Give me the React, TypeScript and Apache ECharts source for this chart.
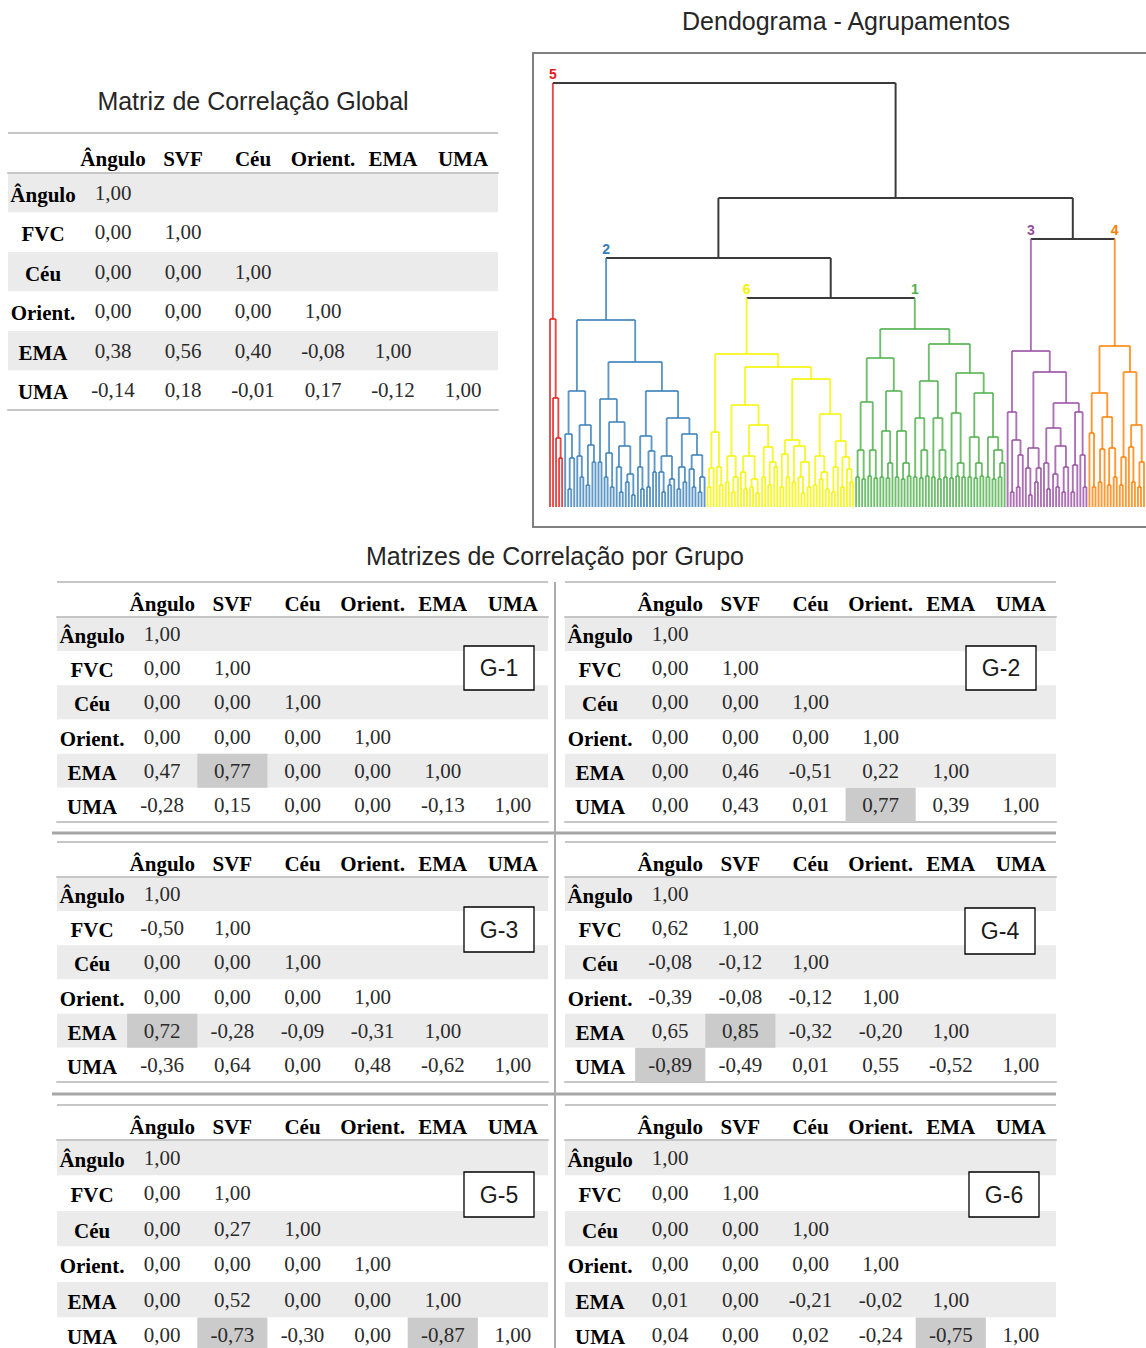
import { useEffect, useRef } from 'react';
import * as echarts from 'echarts';

// ---------------- DATA ----------------
const colHeaders = ['Ângulo', 'SVF', 'Céu', 'Orient.', 'EMA', 'UMA'];
const rowHeaders = ['Ângulo', 'FVC', 'Céu', 'Orient.', 'EMA', 'UMA'];

const globalMatrix = [
  [1.0],
  [0.0, 1.0],
  [0.0, 0.0, 1.0],
  [0.0, 0.0, 0.0, 1.0],
  [0.38, 0.56, 0.4, -0.08, 1.0],
  [-0.14, 0.18, -0.01, 0.17, -0.12, 1.0],
];
const g1Matrix = [
  [1.0],
  [0.0, 1.0],
  [0.0, 0.0, 1.0],
  [0.0, 0.0, 0.0, 1.0],
  [0.47, 0.77, 0.0, 0.0, 1.0],
  [-0.28, 0.15, 0.0, 0.0, -0.13, 1.0],
];
const g1Highlights = [[4, 1]];
const g2Matrix = [
  [1.0],
  [0.0, 1.0],
  [0.0, 0.0, 1.0],
  [0.0, 0.0, 0.0, 1.0],
  [0.0, 0.46, -0.51, 0.22, 1.0],
  [0.0, 0.43, 0.01, 0.77, 0.39, 1.0],
];
const g2Highlights = [[5, 3]];
const g3Matrix = [
  [1.0],
  [-0.5, 1.0],
  [0.0, 0.0, 1.0],
  [0.0, 0.0, 0.0, 1.0],
  [0.72, -0.28, -0.09, -0.31, 1.0],
  [-0.36, 0.64, 0.0, 0.48, -0.62, 1.0],
];
const g3Highlights = [[4, 0]];
const g4Matrix = [
  [1.0],
  [0.62, 1.0],
  [-0.08, -0.12, 1.0],
  [-0.39, -0.08, -0.12, 1.0],
  [0.65, 0.85, -0.32, -0.2, 1.0],
  [-0.89, -0.49, 0.01, 0.55, -0.52, 1.0],
];
const g4Highlights = [[4, 1], [5, 0]];
const g5Matrix = [
  [1.0],
  [0.0, 1.0],
  [0.0, 0.27, 1.0],
  [0.0, 0.0, 0.0, 1.0],
  [0.0, 0.52, 0.0, 0.0, 1.0],
  [0.0, -0.73, -0.3, 0.0, -0.87, 1.0],
];
const g5Highlights = [[5, 1], [5, 4]];
const g6Matrix = [
  [1.0],
  [0.0, 1.0],
  [0.0, 0.0, 1.0],
  [0.0, 0.0, 0.0, 1.0],
  [0.01, 0.0, -0.21, -0.02, 1.0],
  [0.04, 0.0, 0.02, -0.24, -0.75, 1.0],
];
const g6Highlights = [[5, 4]];
const groupNames = ['G-1', 'G-2', 'G-3', 'G-4', 'G-5', 'G-6'];

// Dendrogram: Newick-like strings, "." = leaf, "(a,b)h" = merge at height h
const clusterIds = ['5', '2', '6', '1', '3', '4'];
const clusterColors = ['#e41a1c', '#377eb8', '#f4f400', '#4daf4a', '#984ea3', '#ff7f00'];
const treeRed = '(.,(.,(.,(.,.)49)69)109)188';
const treeBlueA = '((.,((.,.)18,.)49)73,((.,(.,.)30)51,((.,.)22,(.,.)45)62)82)116';
const treeBlueBL = '((.,.)45,(((.,.)30,(.,.)20)54,((.,(.,.)15)40,((.,.)25,(.,.)12)33)61)85)108';
const treeBlueBR = '(((.,(.,.)18)40,((.,.)20,(.,.)35)56)71,(((.,(.,.)15)35,((.,.)22,.)28)51,(((.,.)18,(.,.)25)40,((.,(.,.)20)38,((.,.)15,.)30)52)73)89)116';
const treeYellowY1 = '(((.,.)20,.)39,(.,(.,.)22)40)75';
const treeYellowY2a = '(((.,.)25,((.,.)15,.)30)51,(((.,(.,.)18)35,((.,.)20,(.,.)14)28)51,((.,.)30,((.,.)22,(.,.)40)45)60)82)102';
const treeYellowY2b = '((((.,.)20,(.,.)30)53,((.,.)25,((.,(.,.)14)30,(.,.)20)45)61)67,(((.,.)22,((.,.)28,(.,.)18)35)51,(((.,.)15,.)40,((.,.)20,(.,(.,.)25)38)50)66)93)128';
const treeGreenG1 = '((((.,.)30,(.,.)28)57,((.,.)31,(.,.)29)57)105,(((.,.)30,((.,.)29,.)44)76,((.,.)30,((.,.)28,(.,.)31)44)76)116)149';
const treeGreenG2 = '((((.,.)30,((.,.)29,(.,.)31)57)89,((.,.)30,((.,.)28,(.,.)30)57)89)126,(((.,.)29,((.,.)31,(.,.)30)44)94,(((.,.)30,((.,.)29,(.,.)31)44)70,((.,.)30,((.,.)28,((.,.)30,.)44)57)70)114)134)163';
const treePurpleP1 = '(.,((.,.)15,((.,.)20,.)52)67)95';
const treePurpleP2 = '(((.,(.,.)12)39,((.,.)25,.)39)59,(((.,(.,.)18)44,((.,(.,.)20)33,((.,.)15,.)40)61)79,(((.,.)15,.)42,(.,(.,.)20)52)95)104)135';
const treeOrange = '(((.,(.,.)20)74,(((.,.)25,.)58,((.,.)22,(.,.)30)59)90)114,(((.,.)22,.)50,((.,(.,.)25)60,((.,.)20,.)45)82)135)161';
const clusterTrees = [
  treeRed,
  '(' + treeBlueA + ',(' + treeBlueBL + ',' + treeBlueBR + ')145)187',
  '(' + treeYellowY1 + ',(' + treeYellowY2a + ',' + treeYellowY2b + ')140)153',
  '(' + treeGreenG1 + ',' + treeGreenG2 + ')178',
  '(' + treePurpleP1 + ',' + treePurpleP2 + ')156',
  treeOrange,
];
const topTree = '(#5,((#2,(#6,#1)209)249,(#3,#4)268)309)424';

// ---------------- HELPERS ----------------
type TNode = { h: number; children: TNode[]; x: number; color: number | null };

function parseTree(s: string, refs: Record<string, TNode>): TNode {
  let i = 0;
  const node = (): TNode => {
    if (s[i] === '(') {
      i++;
      const children: TNode[] = [];
      for (;;) {
        children.push(node());
        if (s[i] === ',') { i++; continue; }
        if (s[i] === ')') { i++; break; }
        throw new Error('bad tree');
      }
      let num = '';
      while (i < s.length && /[0-9]/.test(s[i])) num += s[i++];
      return { h: Number(num), children, x: 0, color: null };
    }
    if (s[i] === '.') { i++; return { h: 0, children: [], x: 0, color: null }; }
    if (s[i] === '#') {
      i++;
      let id = '';
      while (i < s.length && /[0-9]/.test(s[i])) id += s[i++];
      return refs[id];
    }
    throw new Error('bad tree char ' + s[i]);
  };
  return node();
}

function colorTree(n: TNode, c: number) {
  n.color = c;
  n.children.forEach((ch) => colorTree(ch, c));
}

function buildDendrogram() {
  const refs: Record<string, TNode> = {};
  clusterTrees.forEach((t, k) => {
    const n = parseTree(t, {});
    colorTree(n, k);
    refs[clusterIds[k]] = n;
  });
  const root = parseTree(topTree, refs);
  let leaf = 0;
  const layout = (n: TNode) => {
    if (!n.children.length) { n.x = leaf++; return; }
    n.children.forEach(layout);
    n.x = n.children.reduce((a, c) => a + c.x, 0) / n.children.length;
  };
  layout(root);
  const black = clusterColors.length;
  const segs: number[][] = [];
  const labels: number[][] = [];
  const collect = (n: TNode) => {
    if (!n.children.length) return;
    const xs = n.children.map((c) => c.x);
    segs.push([Math.min(...xs), n.h, Math.max(...xs), n.h, n.color ?? black]);
    n.children.forEach((c) => {
      segs.push([c.x, c.h, c.x, n.h, c.color ?? black]);
      if (c.color !== null && n.color === null) labels.push([c.x, n.h, c.color]);
      collect(c);
    });
  };
  collect(root);
  return { segs, labels, leaves: leaf, rootH: root.h };
}

const fmt = (v: number) => v.toFixed(2).replace('.', ',');

const SERIF = "'Liberation Serif', 'Times New Roman', serif";
const SANS = "'Liberation Sans', Arial, sans-serif";

// ---------------- LAYOUT ----------------
const tables = [
  { matrix: globalMatrix, hl: [] as number[][], left: 8, width: 490, top: 173, height: 237, ruleTop: 133, margin: 4 },
  { matrix: g1Matrix, hl: g1Highlights, left: 57, width: 491, top: 617, height: 205, ruleTop: 582, margin: 3 },
  { matrix: g2Matrix, hl: g2Highlights, left: 565, width: 491, top: 617, height: 205, ruleTop: 582, margin: 3 },
  { matrix: g3Matrix, hl: g3Highlights, left: 57, width: 491, top: 877, height: 205, ruleTop: 842, margin: 3 },
  { matrix: g4Matrix, hl: g4Highlights, left: 565, width: 491, top: 877, height: 205, ruleTop: 842, margin: 3 },
  { matrix: g5Matrix, hl: g5Highlights, left: 57, width: 491, top: 1140, height: 213, ruleTop: 1105, margin: 3 },
  { matrix: g6Matrix, hl: g6Highlights, left: 565, width: 491, top: 1140, height: 213, ruleTop: 1105, margin: 3 },
];
const boxes = [
  { x: 464, y: 646, w: 70, h: 44 },
  { x: 966, y: 646, w: 70, h: 44 },
  { x: 464, y: 907, w: 70, h: 45 },
  { x: 965, y: 908, w: 70, h: 46 },
  { x: 464, y: 1172, w: 70, h: 45 },
  { x: 969, y: 1172, w: 70, h: 45 },
];

function buildOption() {
  const grid: any[] = [];
  const xAxis: any[] = [];
  const yAxis: any[] = [];
  const series: any[] = [];
  const graphic: any[] = [];
  const ruleColor = '#c6c6c6';

  tables.forEach((t, ti) => {
    grid.push({ left: t.left, top: t.top, width: t.width, height: t.height, outerBoundsMode: 'none', containLabel: false });
    xAxis.push({
      gridIndex: ti, type: 'category', position: 'top', data: [''].concat(colHeaders),
      axisLine: { show: true, lineStyle: { color: ruleColor, width: 2 } },
      axisTick: { show: false }, splitLine: { show: false },
      axisLabel: { interval: 0, margin: t.margin, fontFamily: SERIF, fontWeight: 'bold', fontSize: 21, color: '#000' },
    });
    xAxis.push({
      gridIndex: ti, type: 'category', position: 'bottom', data: [''].concat(colHeaders),
      axisLine: { show: true, lineStyle: { color: ruleColor, width: 2 } },
      axisTick: { show: false }, splitLine: { show: false }, axisLabel: { show: false },
    });
    yAxis.push({
      gridIndex: ti, type: 'category', inverse: true, data: rowHeaders,
      axisLine: { show: false }, axisTick: { show: false }, axisLabel: { show: false },
      splitLine: { show: false },
      splitArea: { show: true, interval: 0, areaStyle: { color: ['#ebebeb', '#ffffff'] } },
    });
    const items: number[][] = [];
    const texts: string[] = [];
    rowHeaders.forEach((lab, r) => {
      items.push([0, r, 0]);
      texts.push(lab);
      t.matrix[r].forEach((v, c) => {
        const isHl = t.hl.some(([hr, hc]) => hr === r && hc === c);
        items.push([c + 1, r, isHl ? 2 : 1]);
        texts.push(fmt(v));
      });
    });
    series.push({
      type: 'custom', coordinateSystem: 'cartesian2d', xAxisIndex: ti * 2, yAxisIndex: ti,
      data: items, silent: true,
      renderItem: (params: any, api: any) => {
        const c = api.value(0);
        const r = api.value(1);
        const kind = api.value(2);
        const p = api.coord([c, r]);
        const sz = api.size([1, 1]);
        const children: any[] = [];
        if (kind === 2) {
          children.push({
            type: 'rect',
            shape: { x: p[0] - sz[0] / 2, y: p[1] - sz[1] / 2, width: sz[0], height: sz[1] },
            style: { fill: '#cbcbcb' },
          });
        }
        children.push({
          type: 'text', x: p[0], y: p[1] + (kind === 0 ? 2 : 0),
          style: {
            text: texts[params.dataIndex], align: 'center', verticalAlign: 'middle',
            fontFamily: SERIF, fontSize: 21, fontWeight: kind === 0 ? 'bold' : 'normal',
            fill: kind === 0 ? '#000' : '#2b2b2b',
          },
        });
        return { type: 'group', children };
      },
    });
    graphic.push({
      type: 'line', shape: { x1: t.left, y1: t.ruleTop, x2: t.left + t.width, y2: t.ruleTop },
      style: { stroke: ruleColor, lineWidth: 2 }, silent: true,
    });
  });

  // dendrogram
  const dendro = buildDendrogram();
  const dg = tables.length;
  grid.push({ left: 550, top: 83, width: 594, height: 424, outerBoundsMode: 'none', containLabel: false });
  xAxis.push({ gridIndex: dg, type: 'value', min: 0, max: dendro.leaves - 1, show: false });
  yAxis.push({ gridIndex: dg, type: 'value', min: 0, max: dendro.rootH, show: false });
  const palette = clusterColors.concat(['#3a3a3a']);
  series.push({
    type: 'custom', coordinateSystem: 'cartesian2d', xAxisIndex: dg * 2, yAxisIndex: dg,
    data: dendro.segs, silent: true, clip: false, encode: { x: [0, 2], y: [1, 3] },
    renderItem: (_p: any, api: any) => {
      const a = api.coord([api.value(0), api.value(1)]);
      const b = api.coord([api.value(2), api.value(3)]);
      const ci = api.value(4);
      const isBlack = ci === clusterColors.length;
      return {
        type: 'line', shape: { x1: a[0], y1: a[1], x2: b[0], y2: b[1] },
        style: { stroke: palette[ci], lineWidth: isBlack ? 2 : 1.9, opacity: isBlack ? 1 : 0.8 },
      };
    },
  });
  series.push({
    type: 'custom', coordinateSystem: 'cartesian2d', xAxisIndex: dg * 2, yAxisIndex: dg,
    data: dendro.labels, silent: true, clip: false,
    renderItem: (_p: any, api: any) => {
      const a = api.coord([api.value(0), api.value(1)]);
      const ci = api.value(2);
      return {
        type: 'text', x: a[0], y: a[1] - 9,
        style: {
          text: clusterIds[ci], align: 'center', verticalAlign: 'middle',
          fontFamily: SANS, fontWeight: 'bold', fontSize: 14, fill: clusterColors[ci],
        },
      };
    },
  });

  // titles
  const titleStyle = { fontFamily: SANS, fontSize: 25, fill: '#262626', align: 'center', verticalAlign: 'middle' };
  graphic.push({ type: 'text', x: 846, y: 21, style: { ...titleStyle, text: 'Dendograma - Agrupamentos' } });
  graphic.push({ type: 'text', x: 253, y: 101, style: { ...titleStyle, text: 'Matriz de Correlação Global' } });
  graphic.push({ type: 'text', x: 555, y: 556, style: { ...titleStyle, text: 'Matrizes de Correlação por Grupo' } });

  // dendrogram frame
  graphic.push({
    type: 'rect', shape: { x: 533, y: 53, width: 700, height: 474 },
    style: { fill: 'none', stroke: '#808080', lineWidth: 2 }, silent: true,
  });

  // separators between group tables
  [833, 1094].forEach((y) => {
    graphic.push({
      type: 'line', shape: { x1: 52, y1: y, x2: 1056, y2: y },
      style: { stroke: '#a6a6a6', lineWidth: 3 }, silent: true,
    });
  });
  graphic.push({
    type: 'line', shape: { x1: 555, y1: 582, x2: 555, y2: 1348 },
    style: { stroke: '#adadad', lineWidth: 2 }, silent: true,
  });

  // group boxes
  boxes.forEach((b, k) => {
    graphic.push({
      type: 'rect', z: 100, zlevel: 0, shape: { x: b.x, y: b.y, width: b.w, height: b.h },
      style: { fill: '#ffffff', stroke: '#000000', lineWidth: 1.3 }, silent: true,
    });
    graphic.push({
      type: 'text', z: 101, zlevel: 0, x: b.x + b.w / 2, y: b.y + b.h / 2,
      style: { text: groupNames[k], align: 'center', verticalAlign: 'middle', fontFamily: SANS, fontSize: 23, fill: '#1a1a1a' },
      silent: true,
    });
  });

  return { animation: false, backgroundColor: '#ffffff', grid, xAxis, yAxis, series, graphic };
}

export default function App() {
  const ref = useRef<HTMLDivElement>(null);
  useEffect(() => {
    const chart = echarts.init(ref.current!, null, { renderer: 'svg' });
    chart.setOption(buildOption() as any);
    return () => chart.dispose();
  }, []);
  return (
    <div
      ref={ref}
      style={{ position: 'absolute', left: 0, top: 0, width: 1146, height: 1348, background: '#fff' }}
    />
  );
}
